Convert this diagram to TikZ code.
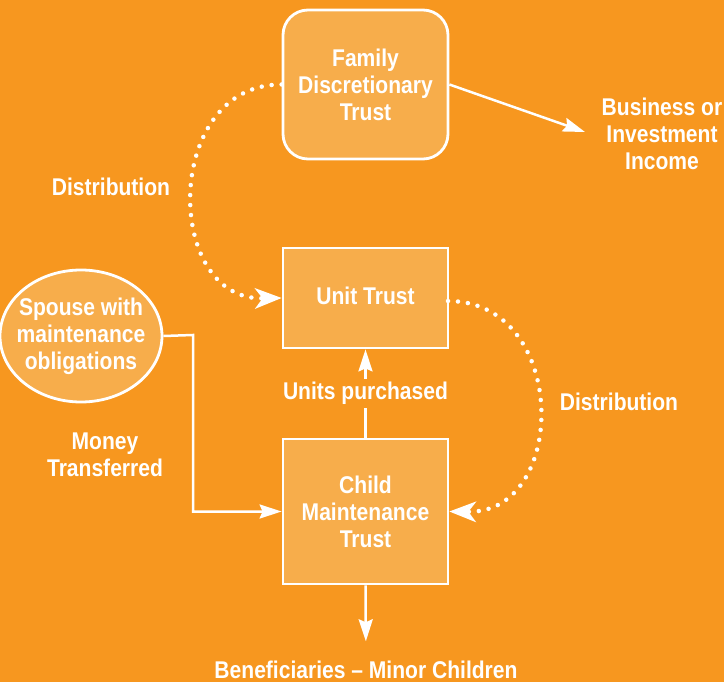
\documentclass[tikz,border=0pt]{standalone}
\usepackage{fontspec}
\setmainfont{Liberation Sans}[FakeStretch=0.87]
\usetikzlibrary{arrows.meta,shapes.geometric}
\definecolor{bg}{HTML}{F7971F}
\definecolor{boxfill}{HTML}{F7AD4B}
\begin{document}
\begin{tikzpicture}[x=1pt,y=-1pt,
  txt/.style={text=white,font=\fontsize{24.2}{27}\selectfont\bfseries,align=center,inner sep=0pt},
  box/.style={txt,draw=white,line width=2.8pt,fill=boxfill,minimum width=165pt},
  conn/.style={draw=white,line width=2.5pt,-{Stealth[length=22pt,width=14pt,inset=3pt]}},
  dots/.style={draw=white,line width=4.5pt,line cap=round,dash pattern=on 0pt off 10pt,
    -{Stealth[length=27pt,width=21pt,inset=8pt,line width=0pt]}}]
  % background
  \path[fill=bg,use as bounding box] (0,0) rectangle (724,682);

  % trusts
  \node[box,rounded corners=25pt,minimum height=149pt] (fdt) at (365.5,84.5) {Family\\Discretionary\\Trust};
  \node[box,minimum height=100pt] (ut) at (365.5,298) {};
  \node[txt] (utlabel) at (365.5,296) {Unit Trust};
  \node[box,minimum height=145pt] (cmt) at (365.5,511.5) {Child\\Maintenance\\Trust};
  \node[draw=white,line width=2.8pt,fill=boxfill,ellipse,minimum width=162pt,minimum height=132pt,inner sep=0pt] (sp) at (81,336) {};
  \node[txt] (splabel) at (sp.center) {Spouse with\\maintenance\\obligations};

  % free labels
  \node[txt] (biz) at (662,134) {Business or\\Investment\\Income};
  \node[txt] (dl) at (111,187) {Distribution};
  \node[txt] (dr) at (619,402) {Distribution};
  \node[txt] (money) at (105,455) {Money\\Transferred};
  \node[txt,anchor=base] (ben) at (366,678) {Beneficiaries – Minor Children};

  % connector ends and bends
  \coordinate (bizin) at (585,132);
  \coordinate (bend) at (193,335);

  % solid connectors
  \draw[conn] (fdt.east) -- (bizin);
  \draw[conn] (sp.east) -- (bend) |- (cmt.west);
  \draw[conn] (cmt.north) -- node[txt,fill=bg,inner sep=3pt] (up) {Units purchased} (ut.south);
  \draw[conn,shorten >=19pt] (cmt.south) -- (ben.north);

  % dotted distribution flows
  \draw[dots] (fdt.west) .. controls (163,84) and (163,300) .. (ut.west);
  \draw[dots] (448,301) .. controls (569,301) and (569,513) .. (cmt.east);
\end{tikzpicture}
\end{document}
